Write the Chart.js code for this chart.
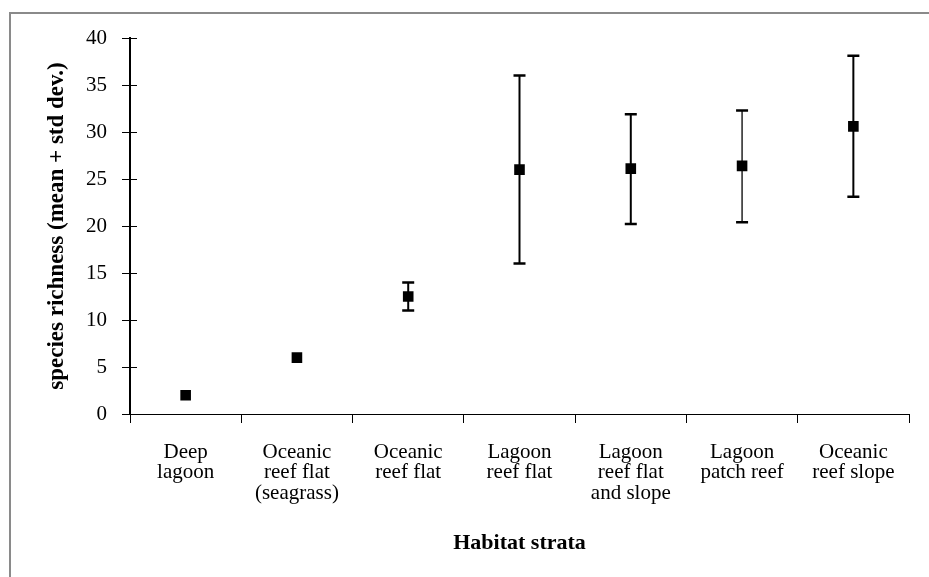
<!DOCTYPE html>
<html>
<head>
<meta charset="utf-8">
<script src="https://cdn.jsdelivr.net/npm/chart.js@4/dist/chart.umd.min.js"></script>
<style>
  body { margin: 0; background: #fff; }
  #frame {
    position: absolute; left: 9px; top: 12px; right: 0; bottom: 0;
    border-top: 2px solid #8a8a8a; border-left: 2px solid #8a8a8a;
  }
  #chart { position: absolute; left: 0; top: 0; }
</style>
</head>
<body>
<div id="frame"></div>
<canvas id="chart" width="929" height="577"></canvas>
<script>
// Habitat strata (x categories)
const habitats = [
  ["Deep", "lagoon"],
  ["Oceanic", "reef flat", "(seagrass)"],
  ["Oceanic", "reef flat"],
  ["Lagoon", "reef flat"],
  ["Lagoon", "reef flat", "and slope"],
  ["Lagoon", "patch reef"],
  ["Oceanic", "reef slope"],
];

// mean species richness
const means = [2, 6, 12.5, 26, 26.1, 26.4, 30.6];
// error bar ends (mean +/- std dev.)
const lows = [null, null, 11, 16, 20.2, 20.4, 23.1];
const highs = [null, null, 14, 36, 31.9, 32.3, 38.1];

const yTicks = [0, 5, 10, 15, 20, 25, 30, 35, 40];

// error bars + inner half of y ticks
const errorBars = {
  id: "errorBars",
  afterDatasetsDraw(chart) {
    const { ctx, scales } = chart;
    const x = scales.x, y = scales.y;
    ctx.save();
    ctx.strokeStyle = "#000";
    means.forEach((m, i) => {
      if (lows[i] == null) return;
      const px = x.getPixelForValue(i);
      const top = y.getPixelForValue(highs[i]);
      const bot = y.getPixelForValue(lows[i]);
      ctx.lineWidth = i === 5 ? 1.3 : 2;
      ctx.beginPath();
      ctx.moveTo(px, top);
      ctx.lineTo(px, bot);
      ctx.stroke();
      ctx.lineWidth = 2.5;
      ctx.beginPath();
      ctx.moveTo(px - 6, top);
      ctx.lineTo(px + 6, top);
      ctx.moveTo(px - 6, bot);
      ctx.lineTo(px + 6, bot);
      ctx.stroke();
    });
    // y ticks cross the axis
    ctx.lineWidth = 1;
    yTicks.forEach((v) => {
      const py = Math.round(y.getPixelForValue(v)) + 0.5;
      ctx.beginPath();
      ctx.moveTo(x.left, py);
      ctx.lineTo(x.left + 7, py);
      ctx.stroke();
    });
    ctx.restore();
  },
};

const serif = "'Liberation Serif', 'Times New Roman', serif";

new Chart(document.getElementById("chart"), {
  type: "line",
  data: {
    labels: habitats,
    datasets: [
      {
        data: means,
        showLine: false,
        pointStyle: "rect",
        pointRadius: 7.5,
        pointHoverRadius: 7.5,
        backgroundColor: "#000",
        borderColor: "#000",
        borderWidth: 0,
      },
    ],
  },
  options: {
    responsive: false,
    animation: false,
    layout: { padding: { left: 43, right: 20, top: 38, bottom: 20 } },
    plugins: { legend: { display: false }, tooltip: { enabled: false } },
    scales: {
      x: {
        type: "category",
        offset: true,
        grid: {
          offset: true,
          drawOnChartArea: false,
          drawTicks: true,
          tickLength: 9,
          color: "#000",
          lineWidth: 1,
        },
        border: { color: "#000", width: 1 },
        ticks: {
          color: "#000",
          padding: 19,
          maxRotation: 0,
          autoSkip: false,
          font: { family: serif, size: 21, lineHeight: 0.98 },
        },
        title: {
          display: true,
          text: "Habitat strata",
          color: "#000",
          padding: 0,
          font: { family: serif, size: 22, weight: "bold" },
        },
        afterFit(scale) {
          scale.height = 143;
        },
      },
      y: {
        min: 0,
        max: 40,
        grid: {
          drawOnChartArea: false,
          drawTicks: true,
          tickLength: 8,
          color: "#000",
          lineWidth: 1,
        },
        border: { color: "#000", width: 2 },
        ticks: {
          stepSize: 5,
          color: "#000",
          padding: 15,
          font: { family: serif, size: 21 },
        },
        title: {
          display: true,
          text: "species richness (mean + std dev.)",
          color: "#000",
          padding: 0,
          font: { family: serif, size: 23, weight: "bold" },
        },
        afterFit(scale) {
          scale.width = 87;
        },
      },
    },
  },
  plugins: [errorBars],
});
</script>
</body>
</html>
